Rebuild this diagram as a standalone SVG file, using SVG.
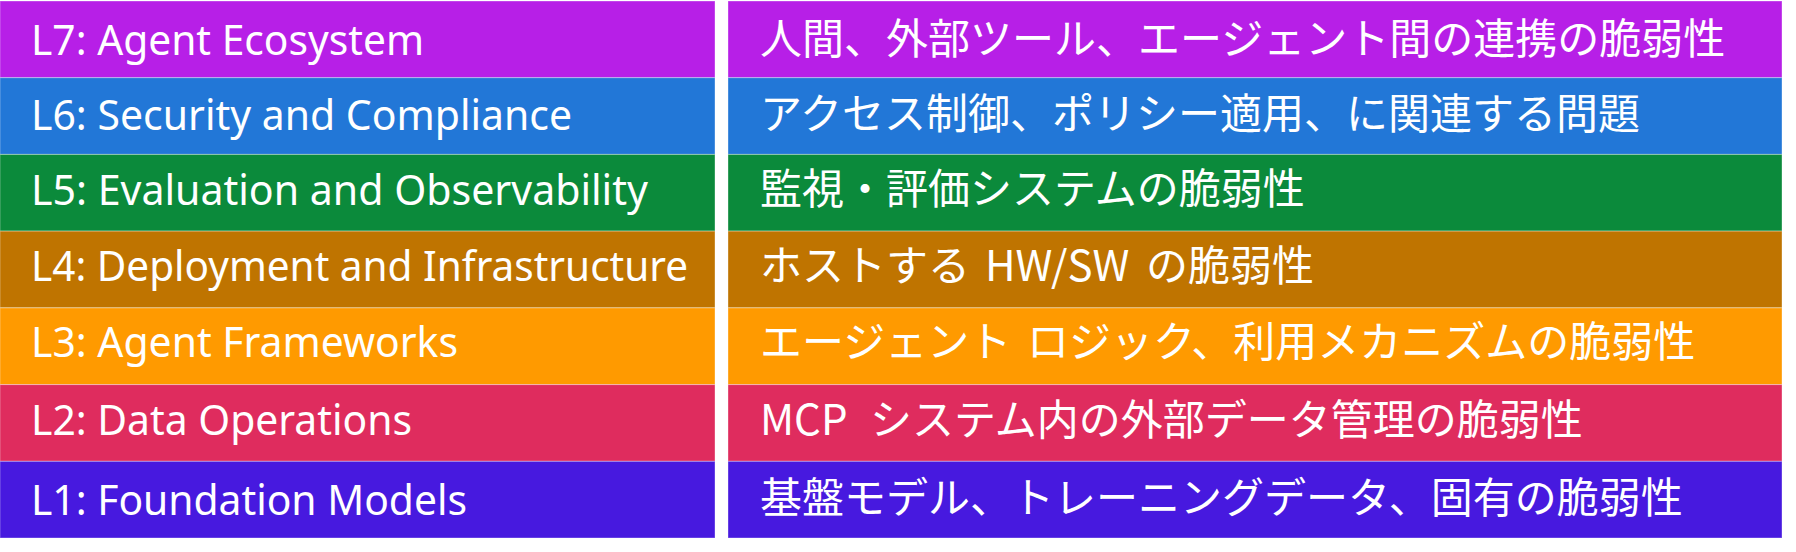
<svg xmlns="http://www.w3.org/2000/svg" width="1796" height="552" viewBox="0 0 1796 552">
<style>
.band{stroke:#ffffff;stroke-opacity:0.35;stroke-width:1}
.en{font-family:"Noto Sans","Open Sans","Liberation Sans",sans-serif;font-size:41px;fill:#ffffff;font-variant-ligatures:none}
.ja{font-family:"Noto Sans CJK JP","Noto Sans",sans-serif;font-size:42px;fill:#ffffff}
.c7{fill:#B71FE7}.c6{fill:#2277D7}.c5{fill:#0B8A3B}.c4{fill:#BF7400}.c3{fill:#FF9A00}.c2{fill:#DF2C5E}.c1{fill:#4719DF}
</style>
<rect width="1796" height="552" fill="#ffffff"/>
<g id="L7">
<rect class="band c7" x="0" y="1" width="715" height="76.7"/>
<rect class="band c7" x="728" y="1" width="1054" height="76.7"/>
<text class="en" x="31" y="55" textLength="393" lengthAdjust="spacingAndGlyphs">L7: Agent Ecosystem</text>
<text class="ja" x="760" y="54">人間、外部ツール、エージェント間の連携の脆弱性</text>
</g>
<g id="L6">
<rect class="band c6" x="0" y="77.7" width="715" height="76.7"/>
<rect class="band c6" x="728" y="77.7" width="1054" height="76.7"/>
<text class="en" x="31" y="130" textLength="541" lengthAdjust="spacingAndGlyphs">L6: Security and Compliance</text>
<text class="ja" x="760" y="129">アクセス制御、ポリシー適用、に関連する問題</text>
</g>
<g id="L5">
<rect class="band c5" x="0" y="154.4" width="715" height="76.7"/>
<rect class="band c5" x="728" y="154.4" width="1054" height="76.7"/>
<text class="en" x="31" y="205" textLength="617" lengthAdjust="spacingAndGlyphs">L5: Evaluation and Observability</text>
<text class="ja" x="760" y="204">監視・評価システムの脆弱性</text>
</g>
<g id="L4">
<rect class="band c4" x="0" y="231.1" width="715" height="76.7"/>
<rect class="band c4" x="728" y="231.1" width="1054" height="76.7"/>
<text class="en" x="31" y="281" textLength="657" lengthAdjust="spacingAndGlyphs">L4: Deployment and Infrastructure</text>
<text class="ja" y="281"><tspan x="760">ホストする</tspan><tspan x="985">HW/SW</tspan><tspan x="1146">の脆弱性</tspan></text>
</g>
<g id="L3">
<rect class="band c3" x="0" y="307.9" width="715" height="76.7"/>
<rect class="band c3" x="728" y="307.9" width="1054" height="76.7"/>
<text class="en" x="31" y="357" textLength="427" lengthAdjust="spacingAndGlyphs">L3: Agent Frameworks</text>
<text class="ja" y="357"><tspan x="760">エージェント</tspan><tspan x="1027">ロジック、利用メカニズムの脆弱性</tspan></text>
</g>
<g id="L2">
<rect class="band c2" x="0" y="384.6" width="715" height="76.7"/>
<rect class="band c2" x="728" y="384.6" width="1054" height="76.7"/>
<text class="en" x="31" y="435" textLength="381" lengthAdjust="spacingAndGlyphs">L2: Data Operations</text>
<text class="ja" y="435"><tspan x="760">MCP</tspan><tspan x="870">システム内の外部データ管理の脆弱性</tspan></text>
</g>
<g id="L1">
<rect class="band c1" x="0" y="461.3" width="715" height="76.7"/>
<rect class="band c1" x="728" y="461.3" width="1054" height="76.7"/>
<text class="en" x="31" y="515" textLength="436" lengthAdjust="spacingAndGlyphs">L1: Foundation Models</text>
<text class="ja" x="760" y="513">基盤モデル、トレーニングデータ、固有の脆弱性</text>
</g>
<g id="connectors"/>
</svg>
